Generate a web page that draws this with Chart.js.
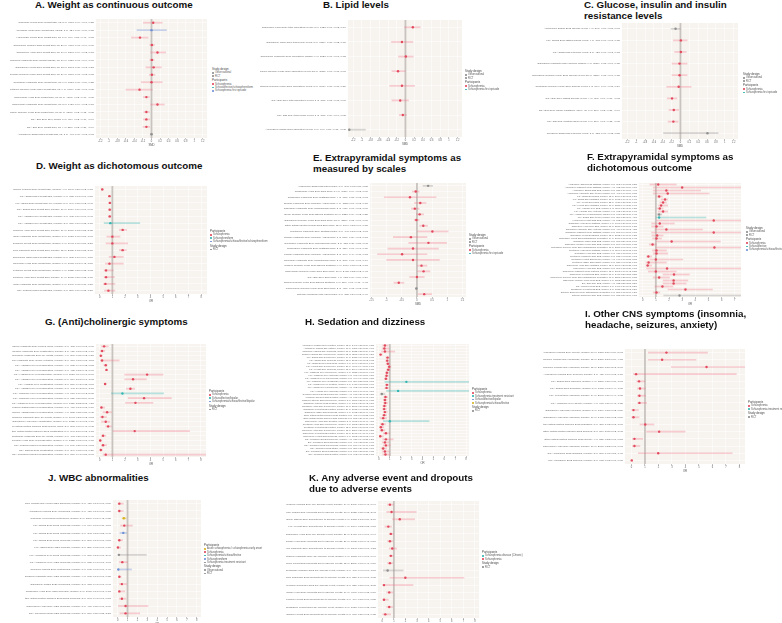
<!DOCTYPE html>
<html>
<head>
<meta charset="utf-8">
<script src="https://cdn.jsdelivr.net/npm/chart.js"></script>
<style>
  body { margin: 0; background: #fff; font-family: 'Liberation Sans', Arial, sans-serif; }
  #page { position: relative; width: 782px; height: 623px; overflow: hidden; }
  .title { position: absolute; font-weight: bold; font-size: 9.8px; line-height: 11.5px; color: #111; white-space: nowrap; }
  .legend { position: absolute; font-size: 2.6px; line-height: 3.4px; color: #555; white-space: nowrap; }
  .legend .head { font-size: 2.9px; margin-top: 1px; color: #444; }
  .legend .key { display: inline-block; width: 1.6px; height: 1.6px; border-radius: 50%; margin-right: 1.5px; vertical-align: middle; }
  canvas { position: absolute; }
</style>
</head>
<body>
<div id="page"></div>
<script>
// axis ticks
const smdTicks = [-1.2, -1, -0.8, -0.6, -0.4, -0.2, 0, 0.2, 0.4, 0.6, 0.8, 1, 1.2];
const epsTicks = [-1.5, -1.25, -1, -0.75, -0.5, -0.25, 0, 0.25, 0.5, 0.75, 1, 1.25, 1.5];
const orTicks = [0, 1, 2, 3, 4, 5, 6, 7, 8];
const orTicksF = [0, 1, 2, 3, 4, 5, 6, 7];

// A. Weight as continuous outcome
const aNames = ['Clozapine Lucchi 2019 weight gain, kg: 5 (n=1196)', 'Asenapine Kwan 2019 weight gain, kg/m2: 3 (n=324)', 'Haloperidol Lucchi 2019 weight gain, kg: 8 (n=496)', 'Olanzapine Pillinger 2020 weight gain, kg: 20 (n=4891)', 'Olanzapine Huhn 2019 weight gain, kg: 17 (n=5247)', 'Olanzapine Kishimoto 2019 weight change, kg: 16 (n=3137)', 'Olanzapine Lucchi 2019 weight gain, kg: 12 (n=2343)', 'Olanzapine Rummel-Kluge 2010 weight gain, kg: 39 (n=6891)', 'Quetiapine Kishimoto 2019 weight gain, kg: 7 (n=1510)', 'Quetiapine Rummel-Kluge 2010 weight gain, kg: 9 (n=1177)', 'Risperidone Huhn 2019 weight gain, kg: 21 (n=4168)', 'Risperidone Kishimoto 2019 weight gain, kg: 8 (n=1486)', 'Risperidone Rummel-Kluge 2010 weight gain, kg: 26 (n=3395)', 'SGA Bak 2014 BMI, kg/m2: 3 (n=489)', 'SGA Bak 2014 weight gain, kg: 4 (n=520)', 'Aripiprazole Zhang 2013 weight gain, kg: 3 (n=446)'];
const aEst = [0.04, 0, -0.27, 0.01, 0.14, 0.01, 0.05, 0.01, 0, -0.28, -0.12, 0.14, -0.12, -0.12, -0.12, 0];
const aLow = [-0.19, -0.34, -0.47, -0.04, -0.02, -0.04, -0.13, -0.05, -0.24, -0.6, -0.19, -0.02, -0.18, -0.19, -0.2, -0.03];
const aHigh = [0.25, 0.35, -0.08, 0.07, 0.33, 0.06, 0.23, 0.08, 0.25, 0.02, -0.05, 0.3, -0.05, -0.04, -0.04, 0.03];
const aGroup = [0, 3, 0, 0, 0, 0, 0, 0, 0, 0, 0, 0, 0, 0, 0, 2];

// B. Lipid levels
const bNames = ['Olanzapine Kwan 2019 total cholesterol levels: 8 (n=1326)', 'Olanzapine Kwan 2019 triglyceride levels: 8 (n=1326)', 'Olanzapine Kishimoto 2019 cholesterol change: 9 (n=2027)', 'Olanzapine Rummel-Kluge 2010 cholesterol levels: 23 (n=3652)', 'Quetiapine Rummel-Kluge 2010 cholesterol levels: 8 (n=1031)', 'SGA Bak 2014 total cholesterol levels: 3 (n=378)', 'SGA Bak 2014 triglyceride levels: 3 (n=378)', 'Aripiprazole Zhang 2013 cholesterol levels: 3 (n=446)'];
const bEst = [0.17, -0.08, 0.01, -0.17, -0.08, -0.12, -0.06, -1.29];
const bLow = [-0.02, -0.32, -0.16, -0.31, -0.36, -0.31, -0.14, -1.31];
const bHigh = [0.34, 0.17, 0.18, 0, 0.21, 0.07, 0.02, -0.92];
const bGroup = [0, 0, 0, 0, 0, 0, 0, 2];

// C. Glucose, insulin and insulin resistance levels
const cNames = ['Aripiprazole Zhang 2013 glucose levels: 4 (n=597)', 'FGA Zhang 2017 fasting insulin levels: 4 (n=345)', 'FGA Zhang 2017 glucose levels: 5 (n=420)', 'Olanzapine Kishimoto 2019 glucose change: 9 (n=2027)', 'Olanzapine Rummel-Kluge 2010 glucose levels: 20 (n=3287)', 'Quetiapine Rummel-Kluge 2010 glucose levels: 6 (n=864)', 'SGA Bak 2014 fasting glucose levels: 4 (n=421)', 'SGA Bak 2014 insulin resistance HOMA-IR: 3 (n=310)', 'SGA Bak 2014 fasting insulin levels: 3 (n=310)', 'Clozapine Zhang 2017 glucose levels: 3 (n=188)'];
const cEst = [-0.11, 0.01, 0.01, -0.02, -0.02, -0.04, -0.19, -0.15, -0.16, 0.61];
const cLow = [-0.21, -0.16, -0.13, -0.19, -0.19, -0.31, -0.3, -0.26, -0.28, -0.38];
const cHigh = [0, 0.15, 0.13, 0.15, 0.15, 0.24, -0.08, -0.04, -0.05, 0.85];
const cGroup = [2, 0, 0, 0, 0, 0, 0, 0, 0, 2];

// D. Weight as dichotomous outcome
const dNames = ['Olanzapine Fonseca 2019 weight gain, number: 4 (n=1190)', 'FGA Zhang 2017 weight gain, number: 6 (n=812)', 'FGA Zhang 2017 weight gain 7%, number: 5 (n=699)', 'SGA Zhang 2017 weight gain, number: 10 (n=1734)', 'FGA Haddad 1999 weight gain, number: 3 (n=342)', 'FGA Haddad 1999 weight gain, number: 2 (n=187)', 'Olanzapine Huhn 2019 weight gain, number: 17 (n=3986)', 'Olanzapine Kishimoto 2019 weight gain, number: 8 (n=1623)', 'Olanzapine Leucht 2013 weight gain, number: 6 (n=1043)', 'Olanzapine Kishimoto 2013 weight gain, number: 12 (n=2312)', 'Olanzapine Osser 2013 weight gain, number: 5 (n=862)', 'Paliperidone Huhn 2019 weight gain, number: 7 (n=1988)', 'Quetiapine Leucht 2013 weight gain, number: 9 (n=1822)', 'Risperidone Huhn 2019 weight gain, number: 14 (n=3015)', 'Risperidone Kishimoto 2019 weight gain, number: 6 (n=1347)', 'SGA Tiihonen 2018 weight gain, number: 3 (n=556)'];
const dEst = [0.2, 0.77, 0.8, 0.79, 0.79, 0.84, 1.81, 1, 1, 1.81, 1.16, 0.77, 0.5, 0.5, 0.45, 0.69];
const dLow = [0.12, 0.7, 0.72, 0.7, 0.7, 0.35, 1.55, 0.56, 0.5, 1.55, 0.74, 0.45, 0.35, 0.35, 0.3, 0.38];
const dHigh = [0.3, 0.86, 0.9, 0.9, 0.9, 3.16, 2.12, 1.6, 2.2, 2.1, 1.86, 1.86, 1.08, 1.16, 1.2, 1.2];
const dGroup = [0, 0, 0, 0, 0, 1, 0, 0, 0, 0, 0, 0, 0, 0, 0, 0];

// E. Extrapyramidal symptoms as measured by scales
const eNames = ['Amisulpride Zhang 2013 EPS scale: 3 (n=393)', 'Olanzapine Huhn 2019 EPS scale: 14 (n=3421)', 'Olanzapine Kishimoto 2019 akathisia scale: 4 (n=718)', 'Olanzapine Kishimoto 2019 Simpson-Angus scale: 6 (n=1152)', 'Olanzapine Kishimoto 2019 parkinsonism scale: 5 (n=905)', 'Olanzapine Rummel-Kluge 2010 Barnes akathisia: 11 (n=2287)', 'Olanzapine Rummel-Kluge 2010 EPS scale: 15 (n=3210)', 'Other antipsychotics Woods 2018 EPS scale: 12 (n=1664)', 'Quetiapine Kishimoto 2019 akathisia scale: 3 (n=490)', 'Quetiapine Kishimoto 2019 Simpson-Angus scale: 3 (n=512)', 'Quetiapine Kishimoto 2019 parkinsonism scale: 2 (n=375)', 'Risperidone Kishimoto 2019 akathisia scale: 2 (n=321)', 'Risperidone Kishimoto 2019 Simpson-Angus scale: 2 (n=304)', 'Risperidone Kishimoto 2019 parkinsonism scale: 2 (n=298)', 'Risperidone Rummel-Kluge 2010 Barnes akathisia: 9 (n=1734)', 'Risperidone Rummel-Kluge 2010 EPS scale: 13 (n=2418)', 'SGA Bak 2014 EPS scale: 4 (n=612)', 'Ziprasidone Rummel-Kluge 2010 Barnes akathisia: 3 (n=656)', 'Paliperidone Rummel-Kluge 2010 EPS scale: 2 (n=412)', 'Zotepine Schneider 2014 EPS scale: 3 (n=335)'];
const eEst = [0.37, -0.04, -0.23, 0.11, -0.07, 0.09, -0.02, 0.21, 0.51, -0.2, 0.38, -0.13, -0.49, -0.13, 0.15, 0.22, 0, -0.6, -0.02, 0.24];
const eLow = [0.2, -0.15, -1.08, -0.08, -0.18, -0.02, -0.09, 0.09, 0.02, -0.78, -0.27, -0.96, -1.3, -1, 0.02, 0.02, -0.24, -0.76, -0.05, 0.05];
const eHigh = [0.52, 0.07, 0.63, 0.3, 0.07, 0.22, 0.07, 0.35, 1.03, 0.33, 0.98, 0.71, 0.33, 0.74, 0.33, 0.43, 0.24, -0.43, 0.01, 0.49];
const eGroup = [2, 0, 0, 0, 0, 0, 0, 0, 0, 0, 0, 0, 0, 0, 0, 0, 0, 0, 2, 0];

// F. Extrapyramidal symptoms as dichotomous outcome
const fNames = ['Amisulpride Zhang 2013 akathisia, number: 3 (n=393)', 'Aripiprazole Kishimoto 2019 akathisia, number: 4 (n=812)', 'Aripiprazole Zhang 2013 EPS, number: 3 (n=521)', 'Aripiprazole Kishimoto 2019 tremor, number: 3 (n=498)', 'FGA Zhang 2017 EPS, number: 12 (n=2014)', 'FGA Zhang 2017 akathisia, number: 10 (n=1775)', 'FGA Leucht 2009 EPS, number: 22 (n=4120)', 'FGA Leucht 2009 akathisia, number: 16 (n=3221)', 'FGA Haddad 1999 EPS, number: 8 (n=1189)', 'FGA Haddad 1999 dystonia, number: 6 (n=903)', 'FGA Haddad 1999 parkinsonism, number: 5 (n=711)', 'FGA Zhang 2017 tremor, number: 3 (n=380)', 'Haloperidol Leucht 2013 EPS, number: 4 (n=512)', 'Olanzapine Huhn 2019 akathisia, number: 9 (n=1906)', 'Olanzapine Huhn 2019 EPS, number: 11 (n=2210)', 'Olanzapine Kishimoto 2019 dystonia, number: 3 (n=414)', 'Olanzapine Kishimoto 2019 akathisia, number: 2 (n=268)', 'Olanzapine Leucht 2013 EPS, number: 12 (n=2512)', 'Olanzapine Leucht 2013 antiparkinson medication: 14 (n=2980)', 'Olanzapine Osser 2013 EPS, number: 3 (n=377)', 'Olanzapine Rummel-Kluge 2010 EPS, number: 2 (n=290)', 'Olanzapine Rummel-Kluge 2010 antiparkinson medication: 18 (n=3650)', 'Quetiapine Huhn 2019 akathisia, number: 6 (n=1104)', 'Quetiapine Huhn 2019 EPS, number: 5 (n=930)', 'Quetiapine Kishimoto 2019 EPS, number: 2 (n=215)', 'Quetiapine Leucht 2013 tremor, number: 4 (n=640)', 'Quetiapine Osser 2013 rigidity, number: 2 (n=236)', 'Risperidone Huhn 2019 akathisia, number: 12 (n=2790)', 'Risperidone Huhn 2019 EPS, number: 3 (n=367)', 'Risperidone Kishimoto 2019 dystonia, number: 15 (n=3001)', 'Risperidone Leucht 2013 EPS, number: 11 (n=2470)', 'Risperidone Rummel-Kluge 2010 antiparkinson medication: 17 (n=3288)', 'Risperidone Rummel-Kluge 2010 EPS, number: 6 (n=1203)', 'SGA Bak 2014 EPS, number: 4 (n=622)', 'SGA Tiihonen 2018 EPS, number: 8 (n=1466)', 'Ziprasidone Leucht 2013 EPS, number: 5 (n=1021)', 'Zotepine Schneider 2014 antiparkinson medication: 2 (n=257)', 'Zotepine Schneider 2014 EPS, number: 3 (n=315)'];
const fEst = [1.18, 3, 1.8, 1.9, 1.25, 1.7, 1.55, 1.4, 1.3, 1.55, 1.25, 1.25, 5.4, 1.3, 1.05, 1.8, 5.4, 1.1, 1.05, 2.2, 0.75, 5.45, 1.05, 1.05, 0.43, 1, 0.45, 0.38, 1.85, 1, 2.38, 1.25, 2.35, 2.35, 1.5, 3.25, 1.05, 2.8];
const fLow = [0.55, 0.8, 0.8, 0.8, 1.05, 1.4, 1.3, 1.2, 1.1, 1.18, 1.1, 1, 1.05, 0.68, 0.68, 0.93, 0.68, 0.7, 0.75, 1.05, 0.5, 1, 0.75, 0.8, 0.3, 0.55, 0.25, 0.25, 0.3, 0.43, 1.55, 0.8, 1.55, 1.55, 0.93, 1.93, 0.8, 1.6];
const fHigh = [2.55, 7.6, 4.4, 5.05, 1.5, 1.9, 1.8, 1.9, 1.55, 1.9, 1.45, 4.8, 7.6, 2.4, 1.55, 4.55, 7.6, 1.55, 1.43, 5.9, 1.05, 7.6, 1.8, 1.9, 0.68, 3.05, 1.8, 0.68, 7.6, 2.55, 3.55, 2.05, 3.43, 3.3, 2.3, 5.3, 1.3, 7.6];
const fGroup = [0, 0, 0, 0, 0, 0, 0, 0, 0, 0, 2, 1, 0, 0, 0, 0, 0, 0, 0, 0, 0, 0, 0, 0, 0, 0, 0, 0, 0, 0, 0, 0, 0, 0, 0, 0, 0, 2];

// G. (Anti)cholinergic symptoms
const gNames = ['Aripiprazole Kishimoto 2019 blurred vision, number: 3 (n=455)', 'Aripiprazole Kishimoto 2019 constipation, number: 5 (n=911)', 'Aripiprazole Kishimoto 2019 dry mouth, number: 4 (n=806)', 'Aripiprazole Kishimoto 2019 urinary retention, number: 2 (n=310)', 'FGA Haddad 1999 hypersalivation, number: 4 (n=682)', 'FGA Haddad 1999 hypersalivation, number: 3 (n=412)', 'FGA Haddad 1999 hypersalivation, number: 6 (n=1120)', 'FGA Haddad 1999 hypersalivation, number: 5 (n=874)', 'FGA Haddad 1999 constipation, number: 2 (n=236)', 'FGA Haddad 1999 hypersalivation, number: 3 (n=498)', 'FGA Wahlbeck 1999 hypersalivation, number: 4 (n=610)', 'FGA Wahlbeck 1999 hypersalivation, number: 5 (n=725)', 'FGA Wahlbeck 1999 hypersalivation, number: 8 (n=1311)', 'Clozapine Siskind 2016 hypersalivation, number: 3 (n=416)', 'Olanzapine Haddad 2016 hypersalivation, number: 4 (n=582)', 'Olanzapine Kishimoto 2019 dry mouth, number: 6 (n=1043)', 'Olanzapine Huhn 2019 constipation, number: 8 (n=1722)', 'Other antipsychotics Tiihonen 2018 blurred vision: 2 (n=208)', 'Other antipsychotics Tiihonen 2018 constipation: 5 (n=790)', 'Quetiapine Kishimoto 2019 dry mouth, number: 3 (n=408)', 'Risperidone Huhn 2019 hypersalivation, number: 7 (n=1322)', 'SGA Tiihonen 2018 hypersalivation, number: 4 (n=541)', 'SGA Siskind 2016 constipation, number: 3 (n=399)', 'SGA Tuunainen 2002 hypersalivation, number: 2 (n=187)'];
const gEst = [0.34, 0.18, 0.08, 0.18, 0.47, 0.53, 3.74, 2.63, 0.42, 2.42, 1.79, 3.5, 2.82, 0.13, 0.58, 0.21, 0.47, 0.66, 2.76, 0.26, 0.03, 0.26, 0.08, 0.47];
const gLow = [0.13, 0.02, 0.02, 0.05, 0.32, 0.45, 1.97, 1.97, 0.35, 2.1, 0.92, 2.24, 2.03, 0.05, 0.26, 0.02, 0.13, 0.47, 1.05, 0.13, 0.01, 0.13, 0.01, 0.26];
const gHigh = [0.66, 0.39, 0.2, 1.53, 0.58, 0.6, 5, 3.68, 0.5, 2.76, 5.05, 5.66, 4.2, 0.39, 0.92, 0.53, 0.79, 0.92, 7.1, 0.47, 0.16, 0.53, 0.21, 8.6];
const gGroup = [0, 0, 0, 0, 0, 0, 0, 0, 0, 0, 1, 0, 0, 0, 0, 0, 0, 0, 0, 0, 0, 0, 0, 0];

// H. Sedation and dizziness
const hNames = ['Aripiprazole Khanna 2014 sedation, number: 13 (n=2496)', 'Aripiprazole Khanna 2014 fatigue, number: 10 (n=1857)', 'Aripiprazole Khanna 2014 dizziness, number: 11 (n=2023)', 'Aripiprazole Khanna 2014 somnolence, number: 12 (n=2211)', 'FGA Zhang 2017 somnolence, number: 14 (n=2837)', 'FGA Zhang 2017 dizziness, number: 12 (n=2175)', 'FGA Zhang 2017 hypersomnia, number: 6 (n=1044)', 'FGA Leucht 2009 somnolence, number: 21 (n=4166)', 'FGA Leucht 2009 dizziness, number: 15 (n=3094)', 'FGA Wahlbeck 1999 somnolence, number: 7 (n=1235)', 'FGA Wahlbeck 1999 dizziness, number: 6 (n=987)', 'FGA Wahlbeck 1999 hypersomnia, number: 5 (n=844)', 'FGA Wahlbeck 1999 drowsiness, number: 3 (n=354)', 'FGA Wahlbeck 1999 sedation, number: 8 (n=1410)', 'FGA Haddad 1999 somnolence, number: 4 (n=602)', 'FGA Haddad 1999 dizziness, number: 2 (n=219)', 'Asenapine Szegedi 2012 somnolence, number: 4 (n=778)', 'Asenapine Szegedi 2012 sedation, number: 4 (n=778)', 'Lurasidone Citrome 2015 somnolence, number: 5 (n=1508)', 'Olanzapine Citrome 2013 sedation, number: 9 (n=1861)', 'Olanzapine Huhn 2019 somnolence, number: 16 (n=3517)', 'Olanzapine Leucht 2013 sedation, number: 24 (n=5015)', 'Olanzapine Osser 2013 dizziness, number: 6 (n=1012)', 'Other antipsychotics Tiihonen 2018 sedation: 3 (n=487)', 'Other antipsychotics Tiihonen 2018 dizziness: 2 (n=265)', 'Paliperidone Huhn 2019 sedation, number: 5 (n=1011)', 'Quetiapine Huhn 2019 somnolence, number: 8 (n=1563)', 'Quetiapine Leucht 2013 sedation, number: 13 (n=2668)', 'Risperidone Huhn 2019 somnolence, number: 15 (n=3309)', 'Risperidone Leucht 2013 sedation, number: 18 (n=3977)', 'Risperidone Leucht 2013 dizziness, number: 7 (n=1502)', 'SGA Tuunainen 2002 somnolence, number: 4 (n=620)', 'SGA Tuunainen 2002 dizziness, number: 3 (n=498)', 'SGA Tuunainen 2002 hypersomnia, number: 2 (n=214)', 'SGA Tuunainen 2002 fatigue, number: 3 (n=356)', 'SGA Tuunainen 2002 drowsiness, number: 2 (n=188)', 'SGA Tuunainen 2002 sedation, number: 5 (n=702)'];
const hEst = [0.55, 0.5, 0.55, 0.15, 0.79, 0.76, 0.82, 0.94, 0.85, 0.73, 0.7, 0.64, 2.52, 0.73, 0.7, 1.76, 0.27, 0.6, 0.55, 0.58, 0.5, 0.48, 0.55, 0.48, 0.39, 1, 0.33, 0.18, 0.27, 0.64, 0.12, 0.64, 0.55, 0.64, 0.39, 0.55, 0.6];
const hLow = [0.34, 0.3, 0.24, 0.1, 0.65, 0.62, 0.66, 0.8, 0.7, 0.6, 0.56, 0.5, 0.55, 0.58, 0.55, 0.7, 0.12, 0.45, 0.4, 0.42, 0.36, 0.33, 0.4, 0.33, 0.1, 0.4, 0.15, 0.05, 0.1, 0.4, 0.03, 0.35, 0.3, 0.4, 0.2, 0.3, 0.35];
const hHigh = [0.85, 0.9, 1.45, 0.3, 0.95, 0.93, 1, 1.1, 1.02, 0.9, 0.87, 0.82, 8.6, 0.9, 0.88, 8.6, 0.55, 0.8, 0.75, 0.8, 0.7, 0.68, 0.76, 0.7, 0.7, 4.6, 0.6, 0.45, 0.55, 1, 0.4, 1.3, 0.9, 1.05, 0.7, 0.95, 1];
const hGroup = [0, 0, 0, 0, 0, 0, 0, 0, 0, 0, 0, 0, 1, 0, 0, 1, 2, 0, 0, 0, 0, 0, 0, 0, 0, 1, 0, 0, 0, 0, 0, 0, 0, 0, 0, 0, 0];

// I. Other CNS symptoms
const iNames = ['Aripiprazole Khanna 2014 anxiety, number: 11 (n=2110)', 'Aripiprazole Khanna 2014 headache, number: 12 (n=2387)', 'Aripiprazole Khanna 2014 insomnia, number: 12 (n=2387)', 'Aripiprazole Khanna 2014 seizures, number: 3 (n=411)', 'FGA Zhang 2017 insomnia, number: 9 (n=1556)', 'FGA Zhang 2017 headache, number: 8 (n=1318)', 'FGA Leucht 2009 insomnia, number: 14 (n=2706)', 'FGA Wahlbeck 1999 anxiety, number: 4 (n=610)', 'Olanzapine Huhn 2019 seizures, number: 5 (n=1304)', 'Olanzapine Huhn 2019 insomnia, number: 16 (n=3488)', 'Other antipsychotics Tiihonen 2018 headache: 3 (n=386)', 'Other antipsychotics Tiihonen 2018 seizures: 2 (n=214)', 'Other antipsychotics Tiihonen 2018 anxiety: 4 (n=521)', 'Risperidone Huhn 2019 insomnia, number: 10 (n=2016)', 'SGA Tuunainen 2002 insomnia, number: 2 (n=206)', 'SGA Tuunainen 2002 seizures, number: 2 (n=178)'];
const iEst = [2.59, 2.27, 5.56, 0.34, 0.56, 0.63, 0.59, 0.59, 0.15, 0.15, 1.02, 2.05, 0.22, 0.22, 1.98, 0.02];
const iLow = [1.24, 1.24, 2.95, 0.15, 0.39, 0.44, 0.44, 0.46, 0.02, 0.02, 0.63, 1.12, 0.07, 0.07, 0.51, 0];
const iHigh = [5.63, 4.78, 8.6, 7.76, 1, 1.05, 1.05, 1.12, 0.51, 0.56, 1.66, 3.98, 0.83, 0.63, 7.46, 0.08];
const iGroup = [0, 0, 0, 0, 0, 0, 0, 0, 0, 0, 0, 0, 0, 0, 0, 0];

// J. WBC abnormalities
const jNames = ['Aripiprazole Khanna 2014 blood WBC abnormal, number: 3 (n=420)', 'Aripiprazole Khanna 2014 leucopenia, number: 3 (n=420)', 'Clozapine Myles 2018 neutropenia, number: 2 (n=1206)', 'FGA Zhang 2017 blood problems, number: 4 (n=614)', 'FGA Zhang 2017 blood problems, number: 3 (n=398)', 'FGA Zhang 2017 blood problems, number: 2 (n=266)', 'FGA Zhang 2017 WBC increase, number: 2 (n=251)', 'FGA Wahlbeck 1999 blood problems, number: 4 (n=657)', 'FGA Wahlbeck 1999 WBC problems, number: 5 (n=812)', 'Clozapine Siskind 2016 neutropenia, number: 3 (n=542)', 'Olanzapine Kishimoto 2019 WBC decrease, number: 4 (n=705)', 'Olanzapine Trigani 2020 leucopenia, number: 2 (n=318)', 'Olanzapine Huhn 2019 WBC decrease, number: 5 (n=1010)', 'Other antipsychotics Tiihonen 2018 blood problems: 2 (n=243)', 'Risperidone Huhn 2019 WBC decrease, number: 3 (n=477)', 'SGA Tuunainen 2002 WBC problems, number: 2 (n=219)'];
const jEst = [0.17, 0.17, 0.63, 0.67, 0.57, 0.17, 0.03, 0.13, 0.47, 0.07, 0.17, 0.43, 0.17, 0.43, 0.8, 0.8];
const jLow = [0, 0, 0.45, 0.3, 0.23, 0, 0, 0, 0.17, 0, 0.07, 0.17, 0.07, 0.17, 0.07, 0.23];
const jHigh = [0.57, 0.57, 0.85, 1.5, 0.9, 0.5, 0.3, 2.9, 1, 1.4, 0.35, 0.9, 0.73, 0.83, 3.07, 2.23];
const jGroup = [0, 0, 4, 0, 3, 0, 0, 2, 0, 3, 0, 0, 0, 0, 0, 0];

// K. Any adverse event and dropouts due to adverse events
const kNames = ['Aripiprazole Khanna 2014 any adverse event, number: 14 (n=3341)', 'Aripiprazole Khanna 2014 dropouts due to adverse events: 13 (n=3022)', 'Clozapine Siskind 2016 dropouts due to adverse events: 7 (n=1318)', 'FGA Leucht 2009 dropouts due to adverse events: 4 (n=1004)', 'Olanzapine Huhn 2019 any adverse event, number: 21 (n=5410)', 'Olanzapine Huhn 2019 dropouts due to adverse events: 27 (n=6602)', 'Olanzapine Kishimoto 2019 dropouts due to adverse events: 9 (n=1893)', 'Quetiapine Kishimoto 2019 any adverse event, number: 6 (n=1278)', 'Quetiapine Leucht 2013 dropouts due to adverse events: 12 (n=2561)', 'Quetiapine Tiihonen 2018 any adverse event, number: 3 (n=466)', 'Paliperidone Schneider 2015 dropouts due to adverse events: 2 (n=227)', 'Paliperidone Schneider 2015 any adverse event, number: 2 (n=227)', 'Risperidone Huhn 2019 dropouts due to adverse events: 19 (n=4107)', 'Risperidone Leucht 2013 dropouts due to adverse events: 3 (n=404)', 'Ziprasidone Leucht 2013 any adverse event, number: 8 (n=1720)', 'Ziprasidone Leucht 2013 dropouts due to adverse events: 5 (n=987)'];
const kEst = [0.66, 0.8, 1.51, 0.52, 0.74, 0.66, 0.86, 0.74, 0.66, 0.46, 1.99, 0.15, 0.6, 0.15, 0.6, 0.26];
const kLow = [0.46, 0.38, 0.89, 0.23, 0.6, 0.46, 0.6, 0.6, 0.46, 0.09, 0.66, 0, 0.38, 0, 0.38, 0.03];
const kHigh = [0.94, 2.93, 2.79, 0.8, 0.94, 0.89, 1.23, 0.94, 0.89, 1.8, 7.05, 2.65, 0.89, 0.52, 0.89, 0.72];
const kGroup = [0, 0, 0, 0, 0, 0, 0, 0, 0, 2, 0, 0, 0, 0, 0, 0];

// legend texts
const designBoth = ['Observational', 'RCT'];
const designRct = ['RCT'];

const dotColors = ['#e24a5d', '#33b5b2', '#8f8f8f', '#7192d6', '#d8b41f'];
const barColors = ['rgba(238,120,138,0.36)', 'rgba(70,185,180,0.38)', 'rgba(150,150,150,0.38)', 'rgba(115,147,216,0.4)', 'rgba(217,181,32,0.45)'];

const fmt = v => v.toFixed(2);

// background + reference line
const forestPlugin = {
    id: 'forest',
    beforeDraw(chart, args, opts) {
        const { ctx, chartArea: a } = chart;
        ctx.save();
        ctx.fillStyle = '#f7f3ee';
        ctx.fillRect(a.left, a.top, a.width, a.height);
        ctx.restore();
    },
    beforeDatasetsDraw(chart, args, opts) {
        const { ctx, chartArea: a } = chart;
        const x = chart.scales.x.getPixelForValue(opts.ref);
        ctx.save();
        ctx.strokeStyle = '#c8c3be';
        ctx.lineWidth = 1.8;
        ctx.beginPath();
        ctx.moveTo(x, a.top);
        ctx.lineTo(x, a.bottom);
        ctx.stroke();
        ctx.restore();
    }
};

const panels = [
    { title: ['A. Weight as continuous outcome'], tx: 35, ty: -1.5, plot: [96, 17, 208, 138], labelW: 86,
      names: aNames, est: aEst, low: aLow, high: aHigh, grp: aGroup, min: -1.3, max: 1.3, ticks: smdTicks, ref: 0, xTitle: 'SMD',
      lx: 212, ly: 67, legend: [['Study design', designBoth, [2, 2]], ['Participants', ['Schizophrenia', 'Schizoaffective/schizophreniform', 'Schizophrenia first episode'], [0, 1, 3]]] },
    { title: ['B. Lipid levels'], tx: 323, ty: -1.5, plot: [348, 18, 463, 137], labelW: 88,
      names: bNames, est: bEst, low: bLow, high: bHigh, grp: bGroup, min: -1.32, max: 1.3, ticks: smdTicks, ref: 0, xTitle: 'SMD',
      lx: 465, ly: 69, legend: [['Study design', designBoth, [2, 2]], ['Participants', ['Schizophrenia', 'Schizophrenia first episode'], [0, 1]]] },
    { title: ['C. Glucose, insulin and insulin', 'resistance levels'], tx: 584, ty: -1.5, plot: [622, 21, 739, 139], labelW: 90,
      names: cNames, est: cEst, low: cLow, high: cHigh, grp: cGroup, min: -1.32, max: 1.3, ticks: smdTicks, ref: 0, xTitle: 'SMD',
      lx: 743, ly: 72, legend: [['Study design', designBoth, [2, 2]], ['Participants', ['Schizophrenia', 'Schizophrenia first episode'], [0, 1]]] },
    { title: ['D. Weight as dichotomous outcome'], tx: 36, ty: 159.5, plot: [95, 184, 208, 294], labelW: 82,
      names: dNames, est: dEst, low: dLow, high: dHigh, grp: dGroup, min: -0.37, max: 8.46, ticks: orTicks, ref: 1, xTitle: 'OR',
      lx: 210, ly: 229, legend: [['Participants', ['Schizophrenia', 'Schizophreniform', 'Schizophrenia/schizoaffective/schizophreniform'], [0, 1, 3]], ['Study design', designRct, [2]]] },
    { title: ['E. Extrapyramidal symptoms as', 'measured by scales'], tx: 313, ty: 151.5, plot: [370, 181, 467, 297], labelW: 86,
      names: eNames, est: eEst, low: eLow, high: eHigh, grp: eGroup, min: -1.55, max: 1.62, ticks: epsTicks, ref: 0, xTitle: 'SMD',
      lx: 469, ly: 233, legend: [['Study design', designBoth, [2, 2]], ['Participants', ['Schizophrenia', 'Schizophrenia first episode'], [0, 1]]] },
    { title: ['F. Extrapyramidal symptoms as', 'dichotomous outcome'], tx: 587, ty: 150.5, plot: [639, 181, 742, 297], labelW: 96,
      names: fNames, est: fEst, low: fLow, high: fHigh, grp: fGroup, min: -0.28, max: 7.47, ticks: orTicksF, ref: 1, xTitle: 'OR',
      lx: 746, ly: 226, legend: [['Study design', designBoth, [2, 2]], ['Participants', ['Schizophrenia', 'Schizoaffective', 'Schizophrenia/schizoaffective'], [0, 1, 3]]] },
    { title: ['G. (Anti)cholinergic symptoms'], tx: 45, ty: 315.5, plot: [96, 342, 207, 457], labelW: 84,
      names: gNames, est: gEst, low: gLow, high: gHigh, grp: gGroup, min: -0.3, max: 8.4, ticks: orTicks, ref: 1, xTitle: 'OR',
      lx: 209, ly: 389, legend: [['Participants', ['Schizophrenia', 'Schizoaffective/bipolar', 'Schizophrenia/schizoaffective/bipolar'], [0, 1, 3]], ['Study design', designRct, [2]]] },
    { title: ['H. Sedation and dizziness'], tx: 305, ty: 315.5, plot: [376, 342, 470, 456], labelW: 74,
      names: hNames, est: hEst, low: hLow, high: hHigh, grp: hGroup, min: -0.27, max: 8.27, ticks: orTicks, ref: 1, xTitle: 'OR',
      lx: 472, ly: 387, legend: [['Participants', ['Schizophrenia', 'Schizophrenia treatment resistant', 'Schizoaffective/bipolar', 'Schizophrenia/schizoaffective'], [0, 1, 3, 4]], ['Study design', designRct, [2]]] },
    { title: ['I. Other CNS symptoms (insomnia,', 'headache, seizures, anxiety)'], tx: 585, ty: 307.5, plot: [625, 347, 746, 464], labelW: 82,
      names: iNames, est: iEst, low: iLow, high: iHigh, grp: iGroup, min: -0.48, max: 8.41, ticks: orTicks, ref: 1, xTitle: 'OR',
      lx: 748, ly: 400, legend: [['Participants', ['Schizophrenia', 'Schizophrenia treatment resistant'], [0, 1]], ['Study design', designRct, [2]]] },
    { title: ['J. WBC abnormalities'], tx: 48, ty: 471.5, plot: [113, 498, 202, 617], labelW: 88,
      names: jNames, est: jEst, low: jLow, high: jHigh, grp: jGroup, min: -0.47, max: 8.43, ticks: orTicks, ref: 1, xTitle: 'OR',
      lx: 204, ly: 543, legend: [['Participants', ['Acute schizophrenia / schizophrenia early onset', 'Schizophrenia', 'Schizophrenia/schizoaffective', 'Schizophreniform', 'Schizophrenia treatment resistant'], [4, 0, 1, 3, 2]], ['Study design', designBoth, [2, 2]]] },
    { title: ['K. Any adverse event and dropouts', 'due to adverse events'], tx: 309, ty: 471.5, plot: [378, 499, 480, 618], labelW: 92,
      names: kNames, est: kEst, low: kLow, high: kHigh, grp: kGroup, min: -0.37, max: 8.35, ticks: orTicks, ref: 1, xTitle: 'OR',
      lx: 482, ly: 550, legend: [['Participants', ['Schizophrenia disease (Chronic)', 'Schizophrenia'], [1, 0]], ['Study design', designRct, [2]]] }
];

const page = document.getElementById('page');
const axisH = 9;

function drawPanel(p) {
    const t = document.createElement('div');
    t.className = 'title';
    t.style.left = p.tx + 'px';
    t.style.top = p.ty + 'px';
    t.innerHTML = p.title.join('<br>');
    page.appendChild(t);

    const [x0, y0, x1, y1] = p.plot;
    const cv = document.createElement('canvas');
    cv.width = p.labelW + (x1 - x0) + 3;
    cv.height = (y1 - y0) + 2 + axisH;
    cv.style.left = (x0 - p.labelW) + 'px';
    cv.style.top = (y0 - 2) + 'px';
    page.appendChild(cv);

    const labels = p.names.map((n, i) => `${n} ${fmt(p.est[i])} [${fmt(p.low[i])}, ${fmt(p.high[i])}]`);
    const labelSize = p.names.length > 30 ? 2.2 : 2.5;

    new Chart(cv, {
        type: 'bar',
        data: {
            labels: labels,
            datasets: [{
                type: 'bar',
                indexAxis: 'y',
                data: p.low.map((l, i) => [l, p.high[i]]),
                backgroundColor: p.grp.map(g => barColors[g]),
                borderWidth: 0,
                barThickness: 1,
                grouped: false,
                order: 2
            }, {
                type: 'line',
                indexAxis: 'y',
                data: p.est,
                showLine: false,
                pointRadius: 1.2,
                pointBorderWidth: 0,
                pointBackgroundColor: p.grp.map(g => dotColors[g]),
                order: 1
            }]
        },
        options: {
            indexAxis: 'y',
            responsive: false,
            animation: false,
            events: [],
            layout: { padding: { top: 2, right: 3, left: 0, bottom: 0 } },
            plugins: { legend: { display: false }, tooltip: { enabled: false }, forest: { ref: p.ref } },
            scales: {
                y: {
                    type: 'category',
                    offset: true,
                    border: { display: false },
                    grid: { color: '#ffffff', lineWidth: 0.6, drawTicks: false, offset: false },
                    ticks: { autoSkip: false, color: '#666', padding: 2, font: { size: labelSize, family: 'Liberation Sans' } },
                    afterFit: s => { s.width = p.labelW; }
                },
                x: {
                    type: 'linear',
                    min: p.min,
                    max: p.max,
                    border: { display: false },
                    grid: { color: '#ffffff', lineWidth: 0.6, tickLength: 1.5, tickColor: '#999' },
                    afterBuildTicks: s => { s.ticks = p.ticks.map(v => ({ value: v })); },
                    ticks: { color: '#666', padding: 0.5, maxRotation: 0, font: { size: 2.6, family: 'Liberation Sans' },
                        callback: v => String(Number(v.toFixed(2))) },
                    title: { display: true, text: p.xTitle, color: '#555', padding: { top: 0.5, bottom: 0 }, font: { size: 2.8, family: 'Liberation Sans' } },
                    afterFit: s => { s.height = axisH; }
                }
            }
        },
        plugins: [forestPlugin]
    });

    const lg = document.createElement('div');
    lg.className = 'legend';
    lg.style.left = p.lx + 'px';
    lg.style.top = p.ly + 'px';
    let html = '';
    p.legend.forEach(([head, items, cols]) => {
        html += `<div class="head">${head}</div>`;
        items.forEach((it, i) => {
            html += `<div><span class="key" style="background:${dotColors[cols[i]]}"></span>${it}</div>`;
        });
    });
    lg.innerHTML = html;
    page.appendChild(lg);
}

panels.forEach(drawPanel);
</script>
</body>
</html>
